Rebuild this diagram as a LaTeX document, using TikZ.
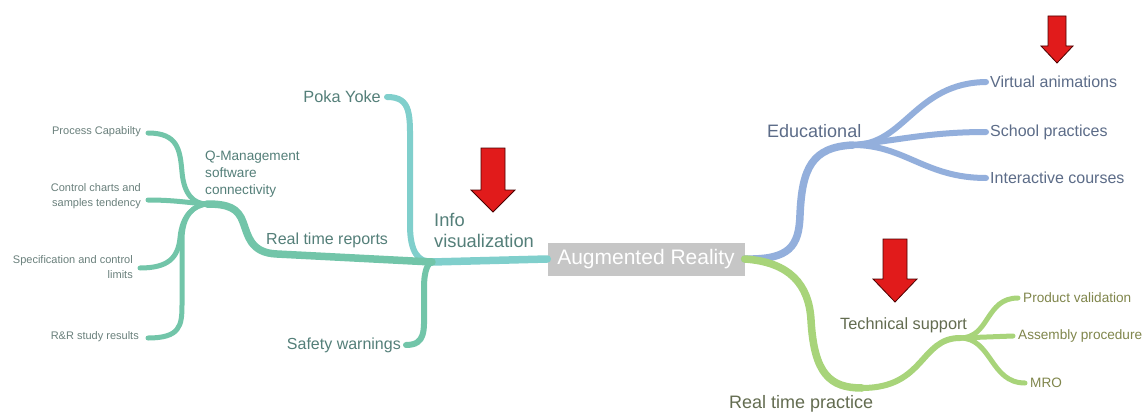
\documentclass[tikz,border=0pt]{standalone}
\usepackage{fontspec}
\setmainfont{Liberation Sans}
\definecolor{tealA}{HTML}{80CFCC}
\definecolor{tealB}{HTML}{72C5A9}
\definecolor{blueB}{HTML}{93AFDC}
\definecolor{greenB}{HTML}{A8D47A}
\definecolor{boxgrey}{HTML}{C6C6C6}
\definecolor{txtTeal}{HTML}{547F79}
\definecolor{txtSmall}{HTML}{6A807C}
\definecolor{txtBlue}{HTML}{5C6C88}
\definecolor{txtGreen}{HTML}{80864C}
\definecolor{txtGreenD}{HTML}{636C50}
\definecolor{arrowred}{HTML}{E11B1B}
\tikzset{
  lbl/.style={inner sep=0pt, font=\fontsize{16}{19}\selectfont, text=txtTeal},
  sml/.style={inner sep=0pt, font=\fontsize{11}{15}\selectfont, text=txtSmall, align=right},
  blbl/.style={inner sep=0pt, font=\fontsize{16}{19}\selectfont, text=txtBlue},
  glbl/.style={inner sep=0pt, font=\fontsize{13.6}{16}\selectfont, text=txtGreen},
  trunk/.style={line width=7.5pt, line cap=round},
  branch/.style={line width=6pt, line cap=round},
  leaf/.style={line width=5pt, line cap=round},
  redarrow/.style={fill=arrowred, draw=black!70!red, line width=0.8pt, line join=miter}
}
\begin{document}
\begin{tikzpicture}[x=1pt,y=-1pt]
\useasboundingbox (0,0) rectangle (1143,412);
\fill[white] (0,0) rectangle (1143,412);

% central node
\node[fill=boxgrey, text=white, minimum width=197pt, minimum height=33pt, inner sep=0pt,
      font=\fontsize{21}{24}\selectfont] (ar) at (646,259) {Augmented Reality};

% hubs
\coordinate (h1) at (432,262);
\coordinate (h2) at (207,204);
\coordinate (h3) at (853,145);
\coordinate (h4) at (862,388);
\coordinate (h5) at (960,338);

% left labels
\node[lbl, anchor=north west, align=left, font=\fontsize{18.3}{21}\selectfont] (iv) at (434,213) {Info\\visualization};
\node[lbl, anchor=east, font=\fontsize{16.3}{19}\selectfont] (pk) at (381,97) {Poka Yoke};
\node[lbl, anchor=east] (sw) at (401,345) {Safety warnings};
\node[lbl, anchor=west] (rtr) at (266,240) {Real time reports};
\node[lbl, anchor=north west, align=left, font=\fontsize{13.6}{17}\selectfont] (qm) at (205,151) {Q-Management\\software\\connectivity};
\node[sml, anchor=east] (pc) at (141,132) {Process Capabilty};
\node[sml, anchor=east] (cc) at (141,196) {Control charts and\\samples tendency};
\node[sml, anchor=east] (sc) at (133,267) {Specification and control\\limits};
\node[sml, anchor=east] (rr) at (139,337) {R\&R study results};

% right labels
\node[blbl, anchor=west, font=\fontsize{18}{21}\selectfont] (ed) at (767,131) {Educational};
\node[blbl, anchor=west] (va) at (990,82) {Virtual animations};
\node[blbl, anchor=west] (sp) at (990,132) {School practices};
\node[blbl, anchor=west] (ic) at (990,178) {Interactive courses};
\node[glbl, anchor=west, text=txtGreenD, font=\fontsize{18}{21}\selectfont] (rtp) at (729,404) {Real time practice};
\node[glbl, anchor=west, text=txtGreenD, font=\fontsize{16.3}{19}\selectfont] (ts) at (840,325) {Technical support};
\node[glbl, anchor=west] (pv) at (1023,298) {Product validation};
\node[glbl, anchor=west] (ap) at (1018,336) {Assembly procedure};
\node[glbl, anchor=west] (mro) at (1030,383) {MRO};

% left connectors
\draw[tealA, trunk] (ar.west) -- (h1);
\draw[tealA, branch] (pk.east) ++(6,0) .. controls (412,97) and (410,115) .. (410,150)
   -- (410,225) .. controls (410,252) and (418,262) .. (h1);
\draw[tealB, branch] (sw.east) ++(5,0) .. controls (426,345) and (424,330) .. (424,310)
   -- (424,288) .. controls (424,270) and (428,263) .. (h1);
\draw[tealB, trunk] (h1) -- (277,254) .. controls (250,253) and (248,235) .. (243,222)
   .. controls (238,208) and (228,204) .. (h2);
\draw[tealB, leaf] (pc.east) ++(7,1) .. controls (178,133) and (180,150) .. (182,172)
   .. controls (184,195) and (194,204) .. (h2);
\draw[tealB, leaf] (cc.east) ++(7,4) .. controls (175,200) and (190,203) .. (h2);
\draw[tealB, leaf] (sc.east) ++(7,1) .. controls (168,268) and (178,258) .. (180,238)
   .. controls (182,215) and (194,205) .. (h2);
\draw[tealB, leaf] (rr.east) ++(9,1) .. controls (180,338) and (182,326) .. (182,305)
   -- (182,240) .. controls (182,215) and (194,205) .. (h2);

% right connectors
\draw[blueB, trunk] (ar.east) .. controls (790,260) and (799,246) .. (800,215)
   .. controls (802,168) and (812,147) .. (h3);
\draw[blueB, branch] (h3) .. controls (905,145) and (915,83) .. ([xshift=-4pt]va.west);
\draw[blueB, branch] (h3) .. controls (900,140) and (930,132) .. ([xshift=-4pt]sp.west);
\draw[blueB, branch] (h3) .. controls (905,145) and (925,178) .. ([xshift=-4pt]ic.west);
\draw[greenB, trunk] (ar.east) .. controls (790,262) and (809,285) .. (811,320)
   .. controls (814,374) and (830,388) .. (h4);
\draw[greenB, branch] (h4) .. controls (925,388) and (920,338) .. (h5);
\draw[greenB, leaf] (h5) .. controls (990,338) and (985,298) .. ([xshift=-5pt]pv.west);
\draw[greenB, leaf] (h5) -- ([xshift=-5pt]ap.west);
\draw[greenB, leaf] (h5) .. controls (992,338) and (990,383) .. ([xshift=-5pt]mro.west);

% red arrows
\draw[redarrow] (481,148) -- (505,148) -- (505,190) -- (515,190) -- (493,212) -- (471,190) -- (481,190) -- cycle;
\draw[redarrow] (1048,16) -- (1066,16) -- (1066,46) -- (1073,46) -- (1057,63) -- (1041,46) -- (1048,46) -- cycle;
\draw[redarrow] (883,239) -- (907,239) -- (907,279) -- (917,279) -- (895,302) -- (873,279) -- (883,279) -- cycle;
\end{tikzpicture}
\end{document}
